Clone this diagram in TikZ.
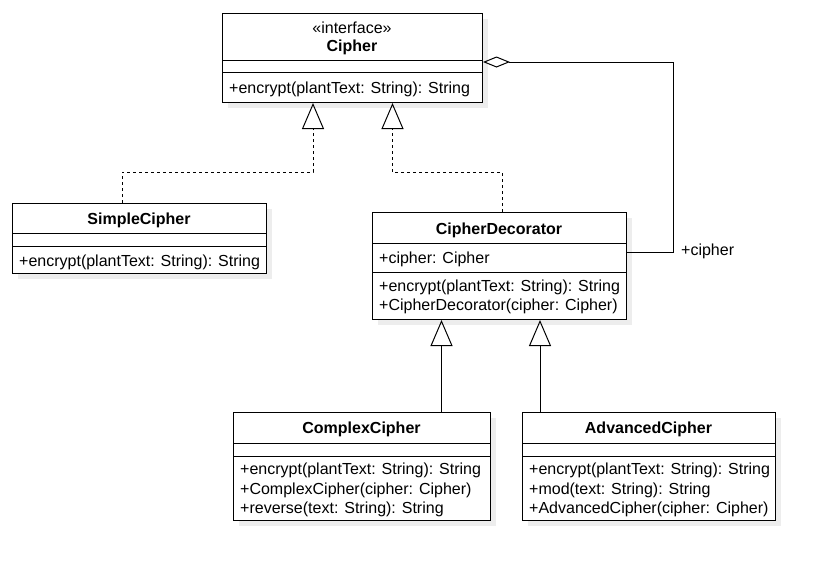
\documentclass[tikz,border=0pt]{standalone}
\usepackage{fontspec}
\setmainfont{Liberation Sans}
\usetikzlibrary{arrows.meta,calc,shadows}

\tikzset{
  classbox/.style={draw, fill=white, line width=1pt, anchor=north west, inner sep=0pt,
    drop shadow={shadow xshift=5pt, shadow yshift=-5pt, fill=black!7, opacity=1}},
  member/.style={anchor=west, align=left, inner sep=0pt, yshift=-2pt, font=\fontsize{16}{19.5}\selectfont},
  title/.style={inner sep=0pt, align=center, yshift=-2pt, font=\fontsize{16}{18}\selectfont\bfseries},
  realize/.style={line width=1pt, dash pattern=on 3pt off 3pt, -{Triangle[open,width=22pt,length=26pt]}},
  inherit/.style={line width=1pt, -{Triangle[open,width=22pt,length=26pt]}},
  aggregate/.style={line width=1pt, {Diamond[open,width=11pt,length=27pt]}-},
}

\begin{document}
\begin{tikzpicture}[x=1pt, y=-1pt]
  \useasboundingbox (0,0) rectangle (825,571);

  % class boxes
  \node[classbox, minimum width=260pt, minimum height=89pt] (cipher) at (222,13) {};
  \node[classbox, minimum width=254pt, minimum height=70pt] (simple) at (12,203) {};
  \node[classbox, minimum width=254pt, minimum height=107pt] (deco) at (372,212) {};
  \node[classbox, minimum width=257pt, minimum height=108pt] (complex) at (233,412) {};
  \node[classbox, minimum width=253pt, minimum height=108pt] (advanced) at (522,412) {};

  % compartments
  \draw[line width=1pt] ($(cipher.north west)+(0,47)$) -- ++(260,0);
  \draw[line width=1pt] ($(cipher.north west)+(0,59)$) -- ++(260,0);
  \draw[line width=1pt] ($(simple.north west)+(0,30)$) -- ++(254,0);
  \draw[line width=1pt] ($(simple.north west)+(0,43)$) -- ++(254,0);
  \draw[line width=1pt] ($(deco.north west)+(0,31)$) -- ++(254,0);
  \draw[line width=1pt] ($(deco.north west)+(0,60)$) -- ++(254,0);
  \draw[line width=1pt] ($(complex.north west)+(0,31)$) -- ++(257,0);
  \draw[line width=1pt] ($(complex.north west)+(0,44)$) -- ++(257,0);
  \draw[line width=1pt] ($(advanced.north west)+(0,31)$) -- ++(253,0);
  \draw[line width=1pt] ($(advanced.north west)+(0,44)$) -- ++(253,0);

  % texts
  \node[title] (cipher-name) at (352,36) {\mdseries «interface»\\Cipher};
  \node[member] (cipher-ops) at (229,87) {+encrypt(plantText: String): String};

  \node[title] (simple-name) at (139,218) {SimpleCipher};
  \node[member] (simple-ops) at (19,260) {+encrypt(plantText: String): String};

  \node[title] (deco-name) at (499,228) {CipherDecorator};
  \node[member] (deco-attr) at (379,257.5) {+cipher: Cipher};
  \node[member] (deco-ops) at (379,295) {+encrypt(plantText: String): String\\+CipherDecorator(cipher: Cipher)};

  \node[title] (complex-name) at (361.5,427.5) {ComplexCipher};
  \node[member] (complex-ops) at (240,488) {+encrypt(plantText: String): String\\+ComplexCipher(cipher: Cipher)\\+reverse(text: String): String};

  \node[title] (advanced-name) at (648.5,427.5) {AdvancedCipher};
  \node[member] (advanced-ops) at (529,488) {+encrypt(plantText: String): String\\+mod(text: String): String\\+AdvancedCipher(cipher: Cipher)};

  % realizations
  \draw[realize] ($(simple.north west)+(110,0)$) -- ++(0,-31) -| ($(cipher.south west)+(91,0)$);
  \draw[realize] ($(deco.north west)+(130,0)$) -- ++(0,-40) -| ($(cipher.south west)+(170.5,0)$);

  % generalizations
  \draw[inherit] ($(complex.north west)+(208.5,0)$) coordinate (c1) -- (c1 |- deco.south);
  \draw[inherit] ($(advanced.north west)+(18,0)$) coordinate (c2) -- (c2 |- deco.south);

  % aggregation
  \draw[aggregate] ($(cipher.north east)+(0,49)$) -| ($(deco.north east)+(46,40)$) -- ($(deco.north east)+(0,40)$);
  \node[member] (role) at (681,249) {+cipher};
\end{tikzpicture}
\end{document}
